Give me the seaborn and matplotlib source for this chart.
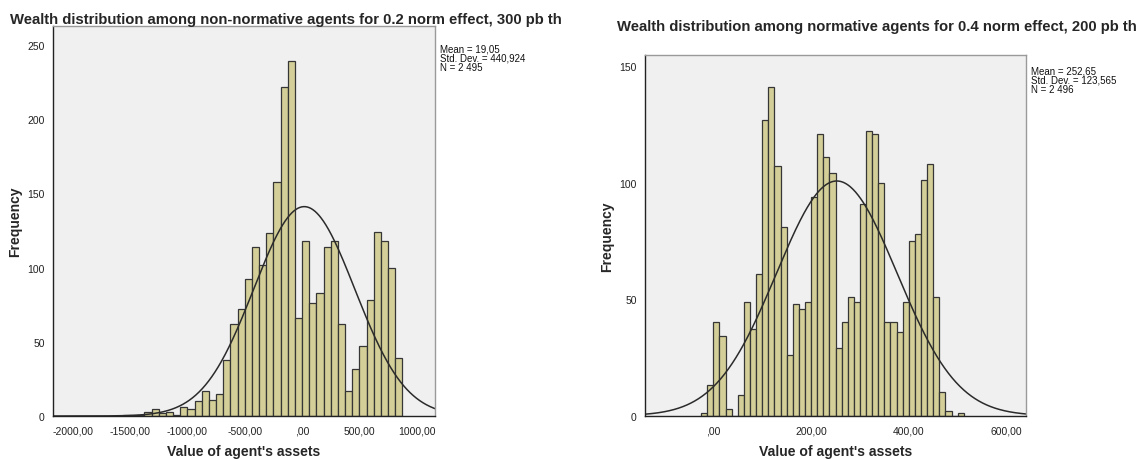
import numpy as np
import pandas as pd
import matplotlib
matplotlib.use("Agg")
import matplotlib.pyplot as plt
from matplotlib.ticker import FuncFormatter, FixedLocator
import seaborn as sns

sns.set_style("white")
plt.rcParams["font.family"] = ["Liberation Sans", "DejaVu Sans"]

# ---- Non-normative agents (0.2 norm effect, 300 pb th) ----
left_title = "Wealth distribution among non-normative agents for 0.2 norm effect, 300 pb th"
left_bin_width = 62.5
left_first_edge = -1562.5
left_counts = [1, 1, 1, 3, 5, 2, 3, 1, 6, 5, 10, 17, 11, 15,
               38, 62, 72, 92, 114, 102, 123, 158, 222, 239, 66,
               118, 76, 83, 114, 118, 62, 17, 32, 47, 78, 124, 118, 100, 39]
left_mean, left_sd, left_n = 19.05, 440.924, 2495
left_stats = ["Mean = 19,05", "Std. Dev. = 440,924", "N = 2 495"]
left_xticks = [-2000, -1500, -1000, -500, 0, 500, 1000]
left_yticks = [0, 50, 100, 150, 200, 250]
left_xlim = (-2173, 1160)
left_ylim = (0, 262.6)

# ---- Normative agents (0.4 norm effect, 200 pb th) ----
right_title = "Wealth distribution among normative agents for 0.4 norm effect, 200 pb th"
right_bin_width = 12.5
right_first_edge = -25.0
right_counts = [1, 13, 40, 34, 3, 0, 9, 49, 37, 61, 127, 141, 107, 81,
                26, 48, 46, 49, 94, 121, 111, 104, 29, 40, 51, 49, 91,
                122, 121, 100, 40, 40, 36, 49, 75, 78, 101, 108, 51, 10,
                2, 0, 1]
right_mean, right_sd, right_n = 252.65, 123.565, 2496
right_stats = ["Mean = 252,65", "Std. Dev. = 123,565", "N = 2 496"]
right_xticks = [0, 200, 400, 600]
right_yticks = [0, 50, 100, 150]
right_xlim = (-140, 640)
right_ylim = (0, 154.8)

x_label = "Value of agent's assets"
y_label = "Frequency"

BAR_FILL = "#D4CF98"
BAR_EDGE = "#363636"
PANEL_BG = "#F0F0F0"

FIG_W, FIG_H = 1143, 460


def comma_fmt(v, _pos=None):
    s = f"{v:.2f}".replace(".", ",")
    if s.startswith("0,"):
        s = s[1:]
    return s


def draw_panel(ax, first_edge, width, counts, mean, sd, n, xlim, ylim,
               xticks, yticks, stats, stats_xy, title, title_xy, ylabel_x):
    nbins = len(counts)
    last_edge = first_edge + width * nbins
    centers = first_edge + width * (np.arange(nbins) + 0.5)
    frame = pd.DataFrame({"value": centers,
                          "count": np.asarray(counts, dtype=float)})
    sns.histplot(data=frame, x="value", weights="count",
                 binwidth=width, binrange=(first_edge, last_edge), ax=ax,
                 color=BAR_FILL, edgecolor=BAR_EDGE, linewidth=0.9,
                 alpha=1.0)
    # normal curve scaled to the histogram counts
    xs = np.linspace(xlim[0], xlim[1], 600)
    pdf = np.exp(-0.5 * ((xs - mean) / sd) ** 2) / (sd * np.sqrt(2 * np.pi))
    ax.plot(xs, n * width * pdf, color="#2B2B2B", linewidth=1.1)

    ax.set_facecolor(PANEL_BG)
    ax.set_xlim(*xlim)
    ax.set_ylim(*ylim)
    ax.xaxis.set_major_locator(FixedLocator(xticks))
    ax.yaxis.set_major_locator(FixedLocator(yticks))
    ax.xaxis.set_major_formatter(FuncFormatter(comma_fmt))
    ax.yaxis.set_major_formatter(FuncFormatter(lambda v, p: f"{int(v)}"))
    ax.tick_params(axis="both", which="major", direction="out", length=4,
                   width=1, color="#222222", labelsize=7.5,
                   labelcolor="#222222", pad=2)
    ax.tick_params(axis="x", pad=3)
    for side in ("top", "right"):
        ax.spines[side].set_color("#9A9A9A")
        ax.spines[side].set_linewidth(1.0)
    for side in ("left", "bottom"):
        ax.spines[side].set_color("#222222")
        ax.spines[side].set_linewidth(1.0)
    ax.set_xlabel(x_label, fontsize=10.1, fontweight="bold", labelpad=6)
    ax.set_ylabel("")
    fig.text(ylabel_x, ax.get_position().y0 + ax.get_position().height / 2,
             y_label, rotation=90, fontsize=10, fontweight="bold",
             ha="center", va="center")
    fig.text(title_xy[0], title_xy[1], title, fontsize=10.7,
             fontweight="bold", ha="left", va="center")
    fig.text(stats_xy[0], stats_xy[1], "\n".join(stats),
             fontsize=7, ha="left", va="top", linespacing=0.9,
             color="#111111")


fig = plt.figure(figsize=(FIG_W / 100, FIG_H / 100), dpi=100)
fig.patch.set_facecolor("white")

ax_left = fig.add_axes([53 / FIG_W, 43 / FIG_H, 382 / FIG_W, 389.7 / FIG_H])
ax_right = fig.add_axes([645 / FIG_W, 43.3 / FIG_H, 381 / FIG_W, 360.7 / FIG_H])

draw_panel(ax_left, left_first_edge, left_bin_width, left_counts,
           left_mean, left_sd, left_n, left_xlim, left_ylim,
           left_xticks, left_yticks, left_stats,
           (440 / FIG_W, 1 - 44.5 / FIG_H), left_title,
           (10 / FIG_W, 1 - 20 / FIG_H), 15 / FIG_W)
draw_panel(ax_right, right_first_edge, right_bin_width, right_counts,
           right_mean, right_sd, right_n, right_xlim, right_ylim,
           right_xticks, right_yticks, right_stats,
           (1031 / FIG_W, 1 - 66.5 / FIG_H), right_title,
           (617 / FIG_W, 1 - 27 / FIG_H), 607 / FIG_W)

fig.savefig("out.png", dpi=100, facecolor="white")
